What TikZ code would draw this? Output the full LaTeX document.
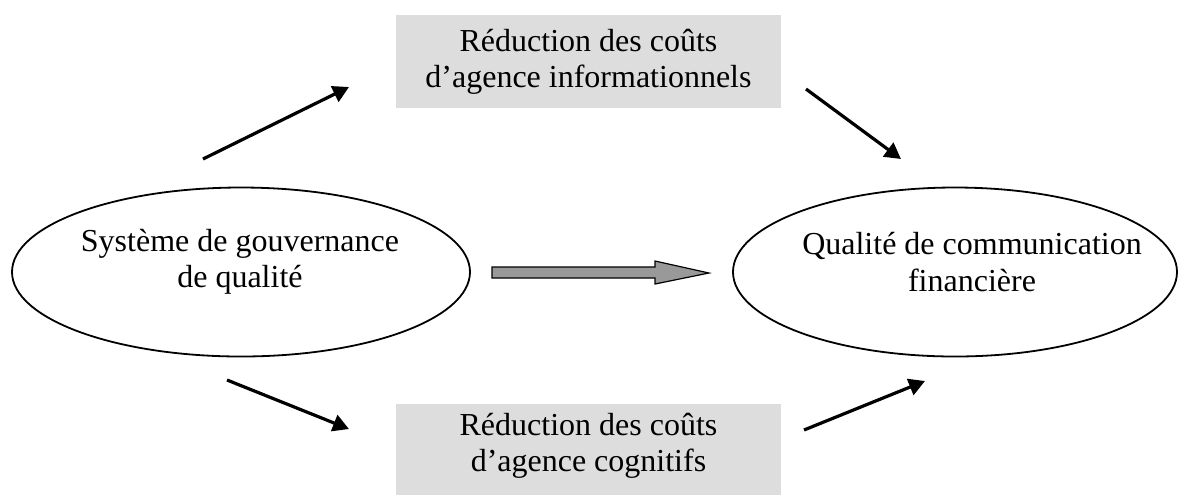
\documentclass[tikz,border=0pt]{standalone}
\usepackage{fontspec}
\setmainfont{Liberation Serif}
\usetikzlibrary{arrows.meta,shapes.geometric}
\definecolor{boxgray}{RGB}{221,221,221}
\definecolor{arrowgray}{RGB}{153,153,153}
\begin{document}
\begin{tikzpicture}[x=0.5pt,y=-0.5pt,
  lbl/.style={align=center,font=\fontsize{16}{18.2}\selectfont,inner sep=0pt},
  oval/.style={draw,line width=0.9pt,ellipse,minimum width=229pt,minimum height=84.5pt,inner sep=0pt},
  graybox/.style={fill=boxgray,minimum width=192.5pt,inner sep=0pt},
  conn/.style={line width=1.6pt,-{Triangle[length=8pt,width=8.5pt]}}]
\useasboundingbox (0,0) rectangle (1179,495);
% ellipses
\node[oval] (gov) at (241,272) {};
\node[lbl] (govt) at (240,262) {Système de gouvernance\\de qualité};
\node[oval,minimum width=222pt] (qcf) at (955,272) {};
\node[lbl] (qcft) at (972,262) {Qualité de communication\\financière};
% boxes
\node[graybox,minimum height=46.5pt] (info) at (588.5,61.5) {};
\node[lbl] (infot) at (588.5,62) {Réduction des coûts\\d’agence informationnels};
\node[graybox,minimum height=45.5pt] (cog) at (588.5,449.5) {};
\node[lbl] (cogt) at (588.5,446) {Réduction des coûts\\d’agence cognitifs};
% connector ends
\coordinate (a1s) at (203,159); \coordinate (a1e) at (349,87);
\coordinate (a2s) at (806,89);  \coordinate (a2e) at (901,159);
\coordinate (a3s) at (227,380); \coordinate (a3e) at (349,429);
\coordinate (a4s) at (804,430); \coordinate (a4e) at (925,381);
\draw[conn] (a1s) -- (a1e);
\draw[conn] (a2s) -- (a2e);
\draw[conn] (a3s) -- (a3e);
\draw[conn] (a4s) -- (a4e);
% big gray arrow
\draw[fill=arrowgray,line width=0.6pt,line join=miter]
  (492,267) -- (655,267) -- (655,261) -- (709,273) -- (655,284) -- (655,278) -- (492,278) -- cycle;
\end{tikzpicture}
\end{document}
